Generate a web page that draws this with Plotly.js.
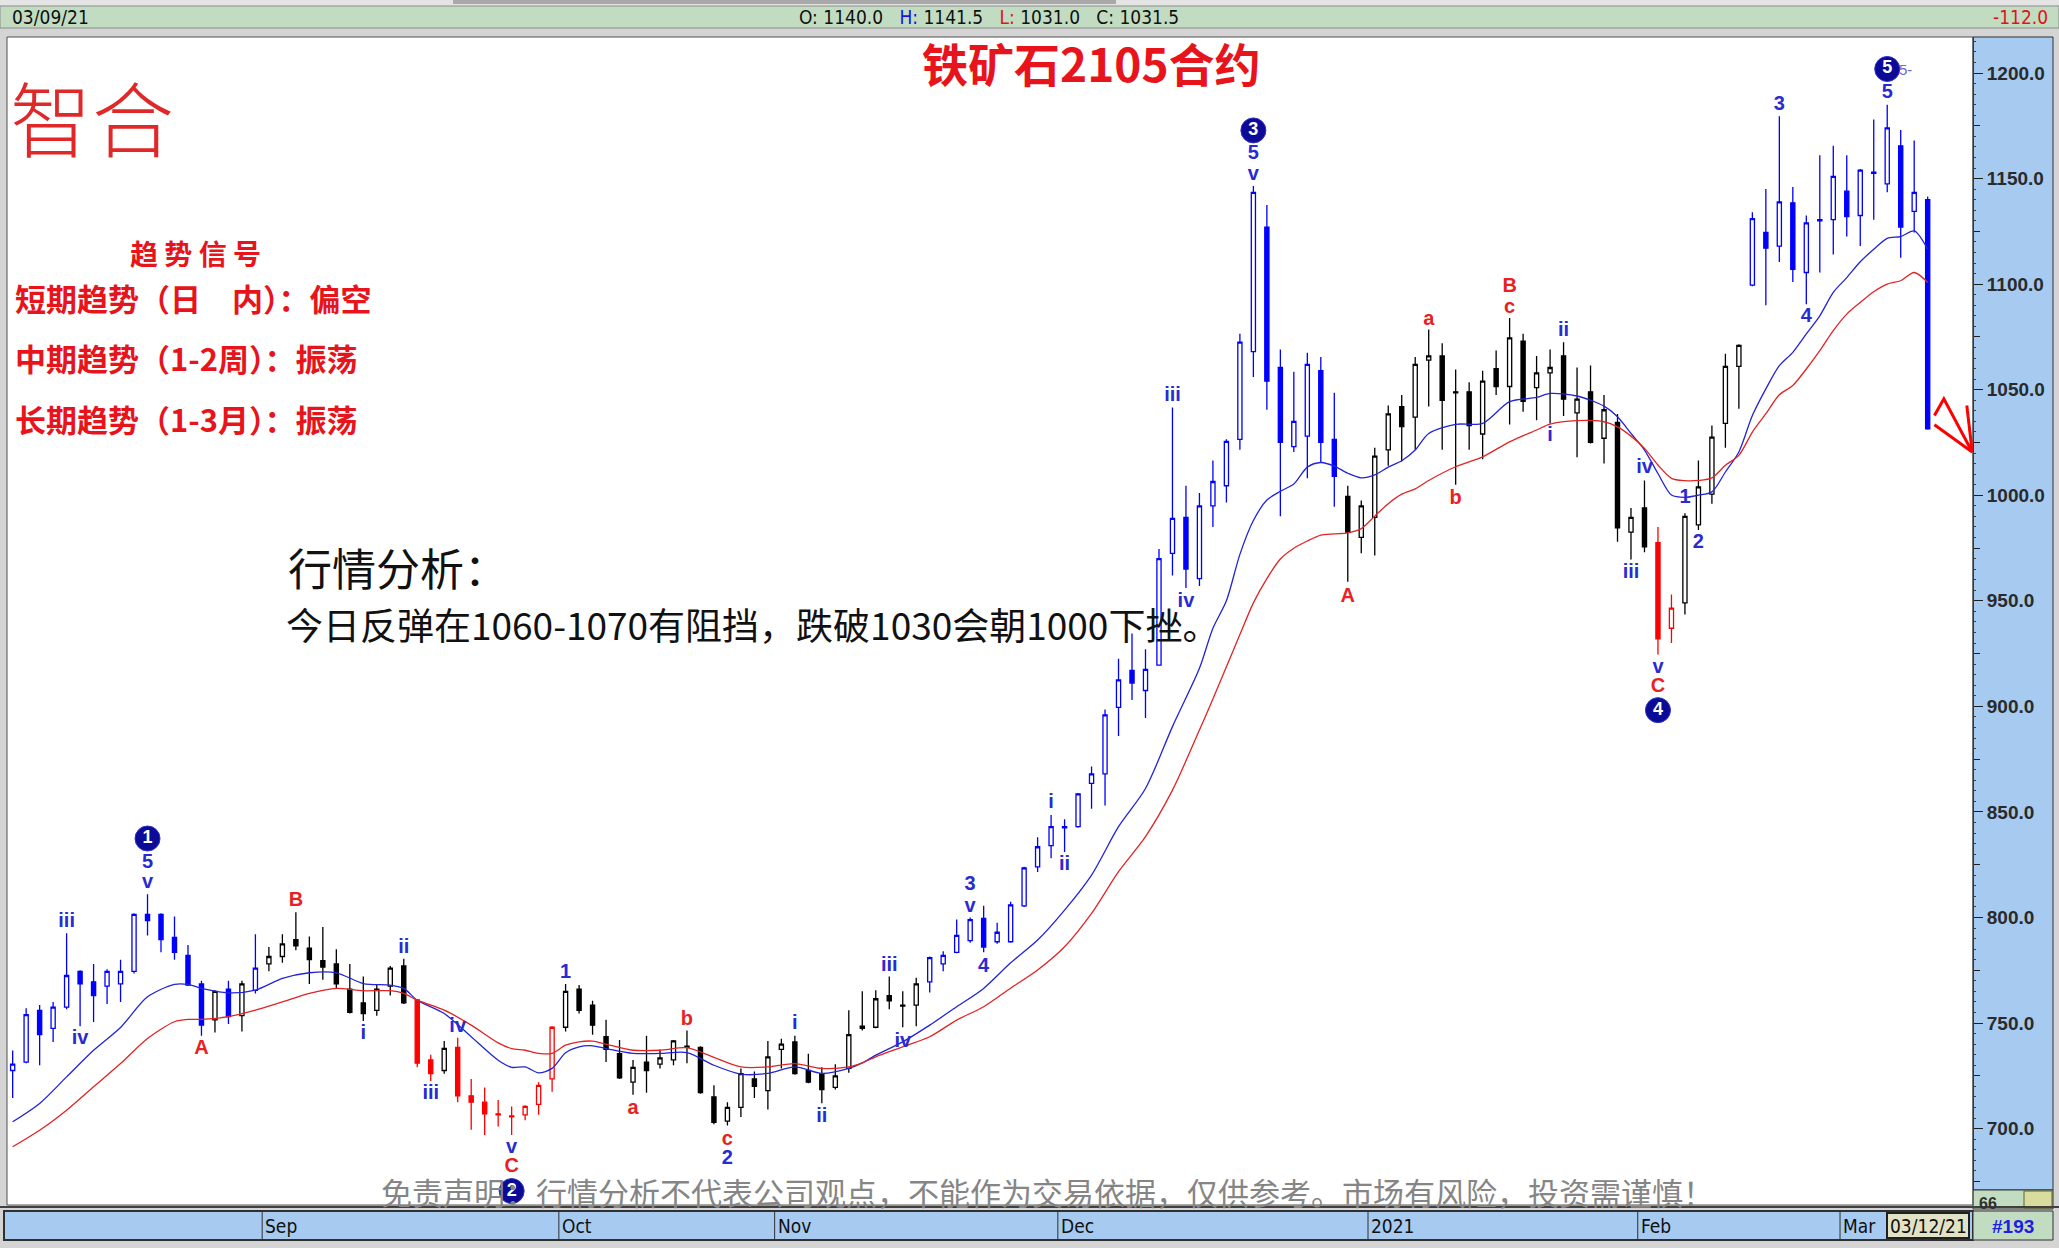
<!DOCTYPE html>
<html><head><meta charset="utf-8">
<script src="https://cdn.plot.ly/plotly-3.0.1.min.js"></script>
<style>html,body{margin:0;padding:0;background:#d4d4d4;overflow:hidden}#chart{width:2059px;height:1248px}</style>
</head><body><div id="chart"></div>
<script>
// ---------------- DATA ----------------
const openP = [727.5,731.5,756.0,747.5,757.5,774.5,769.5,767.5,768.5,774.5,
801.5,801.5,790.5,782.0,768.5,751.5,766.0,753.5,765.5,778.0,
781.5,789.5,785.5,779.5,778.0,766.0,759.5,756.0,767.5,777.0,
761.0,732.5,727.5,738.5,715.5,712.5,707.0,706.0,706.5,711.5,
723.5,748.0,766.0,758.5,743.5,735.5,722.0,731.5,730.5,732.5,
739.0,738.5,715.0,703.5,710.0,723.5,718.0,737.5,741.0,727.5,
726.0,719.5,728.5,748.5,748.0,763.0,758.0,758.5,769.5,778.0,
783.5,789.0,799.5,788.5,788.5,805.5,824.0,834.0,842.5,843.0,
863.5,868.0,899.5,917.0,907.5,919.5,972.5,989.5,960.5,995.0,
1004.5,1026.5,1068.0,1127.0,1060.5,1023.0,1028.0,1059.0,1026.5,999.5,
980.0,989.5,1021.5,1042.0,1037.0,1064.0,1066.0,1049.0,1049.0,1029.0,
1060.0,1051.5,1073.0,1051.0,1058.0,1066.0,1039.0,1049.0,1027.0,1034.5,
982.5,994.0,977.5,937.0,949.0,986.0,1000.5,1034.0,1061.0,1099.5,
1124.5,1118.0,1138.5,1105.5,1130.0,1130.5,1144.0,1132.5,1152.5,1147.5,
1165.5,1134.5,1140.0];
const highP = [737.0,757.0,758.5,760.0,792.5,775.0,778.0,775.5,780.0,802.0,
811.0,802.0,800.5,787.0,770.0,765.5,770.0,770.0,792.0,786.0,
792.0,802.5,791.0,795.5,785.0,778.0,772.0,768.5,777.0,780.5,
761.0,735.0,741.5,743.0,723.5,719.5,713.5,710.5,711.0,722.0,
748.5,768.5,768.0,760.5,751.5,742.0,732.5,744.0,737.5,742.0,
746.5,739.0,720.5,712.5,728.5,727.0,741.5,742.5,744.0,735.5,
729.0,730.5,756.0,765.0,765.5,772.0,765.0,771.5,781.5,784.0,
799.0,800.0,805.5,797.5,807.5,824.0,838.0,848.5,846.5,859.0,
871.5,898.5,922.5,934.5,927.0,974.5,1041.5,1004.5,1001.0,1016.5,
1026.5,1076.5,1146.5,1137.5,1069.0,1058.5,1067.5,1065.5,1048.5,1004.5,
997.5,1022.5,1042.5,1047.5,1065.5,1078.5,1072.0,1059.5,1053.5,1059.0,
1068.5,1084.0,1076.5,1066.0,1069.0,1072.5,1060.5,1061.5,1047.5,1038.5,
994.0,1007.0,985.0,953.0,991.5,1016.5,1033.0,1067.0,1071.5,1134.0,
1145.0,1179.5,1146.0,1132.5,1161.0,1165.5,1161.0,1154.5,1178.0,1185.0,
1173.0,1168.0,1141.5];
const lowP = [714.5,731.0,730.0,741.0,756.5,748.5,750.5,759.0,760.0,773.5,
791.5,783.5,780.0,767.5,744.0,745.5,749.5,746.0,764.0,774.5,
778.5,784.5,768.5,770.5,766.5,754.5,751.0,753.5,763.0,759.0,
729.0,722.5,726.0,712.5,699.5,697.0,701.0,697.0,704.0,706.5,
717.5,746.0,754.5,744.5,731.5,723.5,716.0,717.0,728.5,730.0,
731.0,716.5,702.0,701.5,705.5,714.5,709.0,728.5,725.5,721.5,
712.0,718.5,726.5,746.5,747.5,756.5,748.0,748.5,764.5,774.5,
783.0,788.0,783.5,787.5,788.0,805.0,821.5,828.0,831.0,842.5,
851.5,853.0,886.0,903.0,894.5,919.5,962.0,956.0,957.0,985.0,
996.5,1021.5,1056.0,1040.5,990.0,1020.5,1008.0,1015.5,994.5,959.0,
972.5,971.5,1014.0,1016.0,1021.5,1042.0,1021.5,1005.0,1021.5,1017.0,
1047.5,1033.5,1039.5,1035.5,1034.0,1037.5,1018.0,1024.5,1015.0,978.0,
969.5,973.0,924.5,930.0,943.5,983.5,996.0,1022.5,1041.0,1099.0,
1090.0,1110.5,1101.0,1090.5,1105.5,1114.0,1122.5,1118.0,1130.5,1143.5,
1112.5,1124.5,1031.0];
const closeP = [730.5,754.0,744.5,757.5,772.5,768.5,763.0,774.5,774.5,801.5,
798.5,789.5,783.5,768.0,749.0,765.0,753.0,768.5,776.0,781.5,
787.5,786.5,780.0,776.5,768.5,755.0,754.5,766.0,776.0,759.5,
731.0,726.0,738.0,715.5,712.5,707.0,706.5,705.5,710.5,720.5,
748.0,765.0,756.0,749.0,737.5,724.0,729.0,727.5,733.5,741.5,
738.5,717.0,703.0,710.0,726.0,720.0,734.0,740.0,726.0,722.0,
718.5,725.0,744.5,747.5,761.5,760.5,758.5,768.5,781.0,782.0,
791.5,799.0,786.0,793.0,806.0,823.5,833.5,843.0,843.0,858.5,
868.0,896.0,912.5,911.0,917.5,970.0,989.0,965.0,995.0,1006.5,
1025.5,1072.5,1143.5,1054.0,1025.0,1035.0,1062.0,1025.0,1009.0,982.5,
995.0,1018.5,1038.5,1032.5,1062.0,1066.0,1045.0,1048.5,1033.0,1054.0,
1051.5,1074.5,1044.5,1058.0,1060.5,1045.5,1045.5,1025.0,1040.5,984.5,
989.5,975.5,932.0,946.5,990.0,1004.0,1027.5,1061.0,1071.0,1131.0,
1117.0,1139.0,1107.0,1129.0,1130.5,1151.0,1132.0,1154.0,1153.0,1174.0,
1127.0,1143.5,1031.5];

// moving-average lines at these bars
const maBars = [0,2,4,6,8,10,12,13,14,16,18,20,22,24,26,28,29,30,32,34,36,37,38,39,40,41,42,
43,44,46,48,50,52,54,56,58,60,62,63,64,66,68,70,72,74,76,78,80,82,84,86,88,89,90,
91,92,93,94,95,96,97,98,99,100,101,102,103,104,105,107,109,111,113,114,116,118,119,120,121,122,123,
124,125,126,127,128,129,130,131,132,133,134,135,136,137,138,139,140,141,142];
const maBlue = [703.2,711.9,724.5,737.1,747.9,762.4,768.3,768.3,766.4,
764.3,765.6,771.1,773.8,773.8,768.7,767.9,766.4,760.8,
754.5,743.5,732.4,729.0,729.2,726.4,728.5,735.9,738.7,
739.2,737.9,735.6,735.6,736.0,730.0,725.8,726.1,729.2,
726.1,728.5,731.1,734.8,741.1,749.0,757.7,766.4,778.5,
789.3,803.5,820.1,843.0,861.1,890.4,918.0,937.0,950.0,
972.0,988.0,997.7,1001.9,1005.3,1013.3,1015.5,1013.8,1010.4,
1008.2,1009.6,1013.3,1016.3,1021.4,1029.2,1033.6,1034.0,1044.3,
1046.3,1048.2,1047.0,1042.2,1037.2,1029.3,1021.4,1010.3,1000.1,
999.0,1000.0,1001.6,1011.0,1020.5,1037.8,1050.4,1061.4,1067.7,
1076.4,1085.0,1096.1,1103.1,1110.6,1116.5,1121.7,1122.5,1125.2,
1116.5];
const maRed = [691.4,699.2,708.7,719.8,730.8,742.7,750.6,751.7,751.7,
753.0,756.1,760.0,764.0,766.4,765.3,765.3,764.0,760.8,
756.1,749.0,740.6,737.9,737.1,735.6,735.6,739.5,741.1,
741.4,740.0,737.1,737.1,738.3,733.7,729.2,729.2,730.8,
728.5,729.2,731.1,734.0,738.7,743.5,751.4,757.7,766.5,
775.1,786.1,801.9,821.7,838.3,860.3,888.8,903.5,918.8,
934.0,949.0,960.5,969.8,974.9,978.3,981.1,981.7,982.2,
984.2,990.1,996.0,1000.5,1003.0,1007.0,1013.5,1018.2,1025.3,
1030.9,1033.7,1035.3,1034.8,1032.4,1028.0,1022.2,1014.3,1008.0,
1006.9,1007.0,1008.2,1014.2,1018.9,1029.9,1038.6,1047.6,1052.0,
1059.8,1068.5,1078.0,1085.8,1091.3,1096.4,1100.0,1101.6,1105.5,
1100.8];

// wave colouring groups (bar ranges)
const blueBars  = [[0,14],[16,16],[18,18],[68,98],[129,142]];
const blackBars = [[15,15],[17,17],[19,29],[32,32],[41,67],[99,121],[124,128]];
const redBars   = [[30,31],[33,40],[122,123]];

// Elliott wave labels: bar, price, text
const blueLabelBar   = [10,10,4,5,26,29,31,33,37,41,53,58,60,65,66,71,71,72,77,78,86,87,92,92,114,115,120,121,122,124,125,131,133,139];
const blueLabelPrice = [825.6,816.1,798.0,742.2,745.0,785.3,716.6,747.9,690.6,773.8,685.8,749.5,705.6,776.9,741.1,815.3,805.0,776.6,854.0,824.8,1046.8,949.6,1161.5,1151.7,1028.0,1077.8,963.0,1012.7,918.0,998.5,977.2,1185.0,1084.3,1190.6];
const blueLabelText  = ['5','v','iii','iv','i','ii','iii','iv','v','1','2','i','ii','iii','iv','3','v','4','i','ii','iii','iv','5','v','i','ii','iii','iv','v','1','2','3','4','5'];
const redLabelBar   = [14,21,37,46,50,53,99,105,107,111,111,122];
const redLabelPrice = [737.9,807.9,681.9,709.5,751.4,694.5,952.0,1083.0,998.0,1098.8,1088.8,909.3];
const redLabelText  = ['A','B','C','a','b','c','A','a','b','B','c','C'];
const circleBar   = [10,37,92,122,139];
const circlePrice = [837.4,670.4,1172.8,898.2,1201.9];
const circleText  = ['1','2','3','4','5'];

const closedDays = ['2020-10-01','2020-10-02','2020-10-05','2020-10-06','2020-10-07','2020-10-08',
  '2021-01-01','2021-02-11','2021-02-12','2021-02-15','2021-02-16','2021-02-17'];
const firstDay = '2020-08-05', lastDay = '2021-03-09';
const monthNames = ['Jan','Feb','Mar','Apr','May','Jun','Jul','Aug','Sep','Oct','Nov','Dec'];
const cursorDate = '03/12/21';
const barCountText = '#193';

const titleText = '铁矿石2105合约';
const logoText = '智合';
const signalTitle = '趋 势 信 号';
const signalLines = ['短期趋势（日　内）：偏空','中期趋势（1-2周）：振荡','长期趋势（1-3月）：振荡'];
const analysisTitle = '行情分析：';
const analysisText = '今日反弹在1060-1070有阻挡，跌破1030会朝1000下挫。';
const disclaimer = '免责声明：行情分析不代表公司观点，不能作为交易依据，仅供参考。市场有风险，投资需谨慎！';

// ---------------- BUILD ----------------
function tradingDays(a, b, closed) {
  const out = []; const d = new Date(a + 'T00:00:00Z'); const e = new Date(b + 'T00:00:00Z');
  while (d <= e) {
    const wd = d.getUTCDay(); const s = d.toISOString().slice(0, 10);
    if (wd !== 0 && wd !== 6 && !closed.includes(s)) out.push(s);
    d.setUTCDate(d.getUTCDate() + 1);
  }
  return out;
}
const N = closeP.length;
const dates = tradingDays(firstDay, lastDay, closedDays);

// pixel helpers for layout (not data)
const PL = 7, PR = 1973, PT = 37, PB = 1205;
const px = x => (x - PL) / (PR - PL);
const py = y => (PB - y) / (PB - PT);

function expand(r) { const s = []; r.forEach(([a, b]) => { for (let i = a; i <= b; i++) s.push(i); }); return s; }
function candle(color, ranges) {
  const sel = expand(ranges);
  return {
    type: 'candlestick', x: sel,
    open: sel.map(i => openP[i]), high: sel.map(i => highP[i]),
    low: sel.map(i => lowP[i]), close: sel.map(i => closeP[i]),
    increasing: { line: { color: color, width: 1.3 }, fillcolor: '#ffffff' },
    decreasing: { line: { color: color, width: 1.3 }, fillcolor: color },
    whiskerwidth: 0, hoverinfo: 'skip', showlegend: false
  };
}
const lblFont = (c) => ({ family: 'Liberation Sans, Arial, sans-serif', size: 20, color: c, weight: 'bold' });

const traces = [
  candle('#0000ff', blueBars), candle('#000000', blackBars), candle('#ff0000', redBars),
  { type: 'scatter', mode: 'lines', x: maBars, y: maBlue, line: { color: '#2323d8', width: 1.3, shape: 'spline', smoothing: 0.8 }, hoverinfo: 'skip', showlegend: false },
  { type: 'scatter', mode: 'lines', x: maBars, y: maRed, line: { color: '#e02424', width: 1.3, shape: 'spline', smoothing: 0.8 }, hoverinfo: 'skip', showlegend: false },
  { type: 'scatter', mode: 'text', x: blueLabelBar, y: blueLabelPrice, text: blueLabelText, textposition: 'middle center', textfont: lblFont('#2a2ad2'), hoverinfo: 'skip', showlegend: false, cliponaxis: false },
  { type: 'scatter', mode: 'text', x: redLabelBar, y: redLabelPrice, text: redLabelText, textposition: 'middle center', textfont: lblFont('#e82222'), hoverinfo: 'skip', showlegend: false, cliponaxis: false },
  { type: 'scatter', mode: 'markers+text', x: circleBar, y: circlePrice, text: circleText, textposition: 'middle center',
    marker: { size: 25, color: '#0b0b98', line: { color: '#3030c0', width: 1 } },
    textfont: { family: 'Liberation Sans, Arial, sans-serif', size: 18, color: '#ffffff', weight: 'bold' }, hoverinfo: 'skip', showlegend: false, cliponaxis: false }
];

const narrow = 'Liberation Sans Narrow, Arial Narrow, DejaVu Sans Condensed, Liberation Sans, sans-serif';
const cjk = 'Noto Sans CJK SC, sans-serif';
const last = N - 1;
const chg = closeP[last] - closeP[last - 1];
const dParts = dates[last] ? dates[last].split('-') : ['2021', '03', '09'];
const hdrDate = dParts[1] + '/' + dParts[2] + '/' + dParts[0].slice(2);
const hdrOHLC = 'O: ' + openP[last].toFixed(1) + '&nbsp;&nbsp;&nbsp;<span style="color:#1414e6">H:</span> ' + highP[last].toFixed(1) +
  '&nbsp;&nbsp;&nbsp;<span style="color:#e01414">L:</span> ' + lowP[last].toFixed(1) + '&nbsp;&nbsp;&nbsp;C: ' + closeP[last].toFixed(1);

const shapes = [
  { type: 'rect', xref: 'paper', yref: 'paper', x0: px(0), x1: px(2059), y0: py(6), y1: py(0), fillcolor: '#e4e4e4', line: { width: 0 }, layer: 'below' },
  { type: 'rect', xref: 'paper', yref: 'paper', x0: px(453), x1: px(1116), y0: py(4), y1: py(0), fillcolor: '#a8a8a8', line: { width: 0 } },
  { type: 'rect', xref: 'paper', yref: 'paper', x0: px(0), x1: px(2059), y0: py(28), y1: py(6), fillcolor: '#c2dcc2', line: { color: '#8a8a8a', width: 1 } },
  { type: 'rect', xref: 'paper', yref: 'paper', x0: px(1973), x1: px(2053), y0: py(1190), y1: py(37), fillcolor: '#a6caf0', line: { color: '#303030', width: 1 }, layer: 'below' },
  { type: 'rect', xref: 'paper', yref: 'paper', x0: px(1973), x1: px(2053), y0: py(1209), y1: py(1190), fillcolor: '#c2dcc2', line: { color: '#303030', width: 1 } },
  { type: 'rect', xref: 'paper', yref: 'paper', x0: px(2024), x1: px(2052), y0: py(1208), y1: py(1191), fillcolor: '#d8dc9c', line: { color: '#606030', width: 1 } },
  { type: 'rect', xref: 'paper', yref: 'paper', x0: 0, x1: 1, y0: 0, y1: 1, line: { color: '#505050', width: 1 } },
  { type: 'rect', xref: 'paper', yref: 'paper', x0: px(4), x1: px(1973), y0: py(1240), y1: py(1211), fillcolor: '#a6caf0', line: { color: '#303030', width: 2 } },
  { type: 'rect', xref: 'paper', yref: 'paper', x0: px(1887), x1: px(1969), y0: py(1238), y1: py(1213), fillcolor: '#e2e2c4', line: { color: '#202020', width: 2 } },
  { type: 'rect', xref: 'paper', yref: 'paper', x0: px(1973), x1: px(2053), y0: py(1240), y1: py(1211), fillcolor: '#c2dcc2', line: { color: '#303030', width: 1 } },
  { type: 'line', xref: 'paper', yref: 'paper', x0: px(0), x1: px(2059), y0: py(1207), y1: py(1207), line: { color: '#404040', width: 2 } },
  // hand-drawn red arrow
  { type: 'path', xref: 'x', yref: 'y', path: 'M 142.5,1037.8 L 143.2,1045.7 L 145.3,1020.5 L 142.5,1033.4', line: { color: '#ff0000', width: 3 } },
  { type: 'path', xref: 'x', yref: 'y', path: 'M 144.9,1042.5 L 145.3,1020.5', line: { color: '#ff0000', width: 3 } }
];

const annotations = [
  { xref: 'paper', yref: 'paper', x: px(10), y: py(17), xanchor: 'left', yanchor: 'middle', showarrow: false, text: hdrDate, font: { family: narrow, size: 19, color: '#101010' } },
  { xref: 'paper', yref: 'paper', x: px(797), y: py(17), xanchor: 'left', yanchor: 'middle', showarrow: false, text: hdrOHLC, font: { family: narrow, size: 19, color: '#101010' } },
  { xref: 'paper', yref: 'paper', x: px(2050), y: py(17), xanchor: 'right', yanchor: 'middle', showarrow: false, text: chg.toFixed(1), font: { family: narrow, size: 19, color: '#e01414' } },
  { xref: 'paper', yref: 'paper', x: px(1091), y: py(62), xanchor: 'center', yanchor: 'middle', showarrow: false, text: titleText, font: { family: cjk, size: 46, color: '#e8141c', weight: 'bold' } },
  { xref: 'paper', yref: 'paper', x: px(92), y: py(116), xanchor: 'center', yanchor: 'middle', showarrow: false, text: logoText, font: { family: cjk, size: 82, color: '#e02828', weight: 300 } },
  { xref: 'paper', yref: 'paper', x: px(195), y: py(253), xanchor: 'center', yanchor: 'middle', showarrow: false, text: signalTitle, font: { family: cjk, size: 28, color: '#e8141c', weight: 'bold' } },
  { xref: 'paper', yref: 'paper', x: px(286), y: py(567), xanchor: 'left', yanchor: 'middle', showarrow: false, text: analysisTitle, font: { family: cjk, size: 44, color: '#111111' } },
  { xref: 'paper', yref: 'paper', x: px(284), y: py(624), xanchor: 'left', yanchor: 'middle', showarrow: false, text: analysisText, font: { family: cjk, size: 37, color: '#111111' } },
  { xref: 'paper', yref: 'paper', x: px(1047), y: py(1191), xanchor: 'center', yanchor: 'middle', showarrow: false, text: disclaimer, font: { family: cjk, size: 31, color: '#858585' } },
  { xref: 'paper', yref: 'paper', x: px(1928), y: py(1226), xanchor: 'center', yanchor: 'middle', showarrow: false, text: cursorDate, font: { family: narrow, size: 19, color: '#101010' } },
  { xref: 'paper', yref: 'paper', x: px(2013), y: py(1226), xanchor: 'center', yanchor: 'middle', showarrow: false, text: barCountText, font: { family: 'Liberation Sans, Arial, sans-serif', size: 19, color: '#1e1ee0', weight: 'bold' } },
  { xref: 'paper', yref: 'paper', x: px(1977), y: py(1203), xanchor: 'left', yanchor: 'middle', showarrow: false, text: '66', font: { family: 'Liberation Sans, Arial, sans-serif', size: 16, color: '#303030', weight: 'bold' } },
  { xref: 'x', yref: 'y', x: 139.75, y: 1201.5, xanchor: 'left', yanchor: 'middle', showarrow: false, text: '5-', font: { family: 'Liberation Sans, Arial, sans-serif', size: 15, color: '#6a6ad0' } }
];
signalLines.forEach((t, k) => annotations.push({ xref: 'paper', yref: 'paper', x: px(13), y: py([297, 357, 418][k]), xanchor: 'left', yanchor: 'middle', showarrow: false, text: t, font: { family: cjk, size: 31, color: '#e8141c', weight: 'bold' } }));

// month separators & labels from the trading dates
for (let i = 1; i < dates.length; i++) {
  if (dates[i].slice(0, 7) !== dates[i - 1].slice(0, 7)) {
    const m = parseInt(dates[i].slice(5, 7), 10);
    const lab = m === 1 ? dates[i].slice(0, 4) : monthNames[m - 1];
    shapes.push({ type: 'line', xref: 'x', yref: 'paper', x0: i - 0.5, x1: i - 0.5, y0: py(1240), y1: py(1211), line: { color: '#303030', width: 1 } });
    annotations.push({ xref: 'x', yref: 'paper', x: i - 0.5, y: py(1226), xanchor: 'left', yanchor: 'middle', xshift: 1, showarrow: false, text: lab, font: { family: narrow, size: 19, color: '#101010' } });
  }
}

const yr = [663.8, 1217.05];
const layout = {
  width: 2059, height: 1248,
  margin: { l: PL, r: 2059 - PR, t: PT, b: 1248 - PB, pad: 0 },
  paper_bgcolor: '#d4d4d4', plot_bgcolor: '#ffffff',
  showlegend: false, boxgap: 0.56, boxmode: 'overlay',
  xaxis: { range: [-0.42, 145.36], showticklabels: false, showgrid: false, zeroline: false, ticks: '', rangeslider: { visible: false }, fixedrange: true, showline: false },
  yaxis: { range: yr, side: 'right', dtick: 50, tick0: 0, tickformat: '.1f', ticks: 'outside', ticklen: 9, tickwidth: 1, tickcolor: '#202020',
    showgrid: false, zeroline: false, showline: true, linecolor: '#202020', linewidth: 1, fixedrange: true,
    tickfont: { family: 'Liberation Sans, Arial, sans-serif', size: 19, color: '#2a2a2a', weight: 'bold' },
    minor: { dtick: 5, ticklen: 2, tickcolor: '#404040', ticks: 'outside', showgrid: false } },
  yaxis2: { range: yr, overlaying: 'y', side: 'right', dtick: 25, tick0: 0, ticks: 'outside', ticklen: 6, tickcolor: '#202020', showticklabels: false, showgrid: false, zeroline: false, showline: false, fixedrange: true },
  shapes: shapes, annotations: annotations
};
traces.push({ type: 'scatter', x: [0], y: [700], yaxis: 'y2', mode: 'markers', marker: { opacity: 0 }, hoverinfo: 'skip', showlegend: false });

Plotly.newPlot('chart', traces, layout, { displayModeBar: false, staticPlot: true });
</script>
</body></html>
